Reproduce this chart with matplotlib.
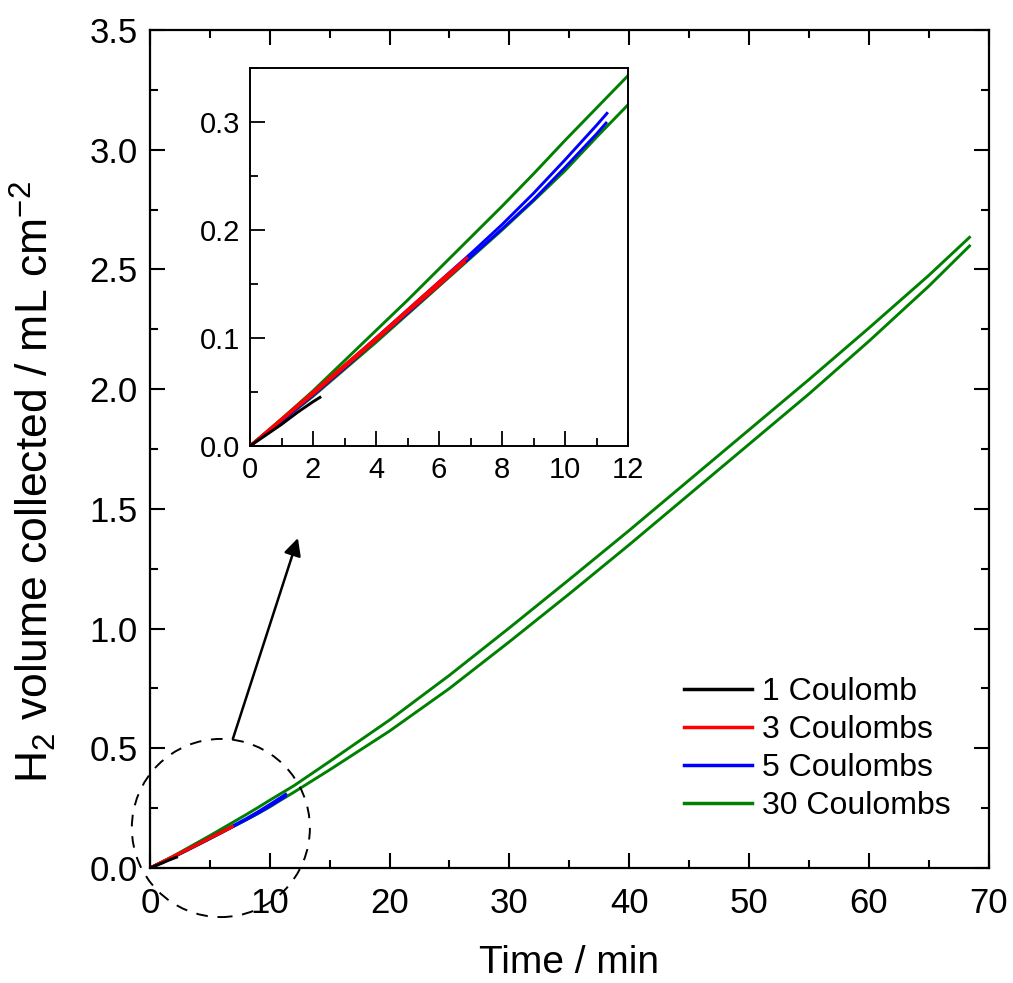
import matplotlib
matplotlib.use("Agg")
import matplotlib.pyplot as plt
from matplotlib.patches import Ellipse
from matplotlib.ticker import MultipleLocator

plt.rcParams['font.family'] = ['Liberation Sans', 'DejaVu Sans']
plt.rcParams['mathtext.default'] = 'regular'

# ---- data ----
t_green = [0, 1, 2, 3, 4, 5, 6, 7, 8, 9, 10, 11, 12, 15, 20, 25, 30, 35, 40, 45, 50, 55, 60, 65, 68.4]
green_upper = [0, 0.025, 0.051, 0.079, 0.107, 0.135, 0.164, 0.193, 0.222, 0.252, 0.283, 0.313, 0.343,
               0.445, 0.618, 0.805, 1.003, 1.205, 1.410, 1.620, 1.830, 2.040, 2.255, 2.475, 2.634]
green_lower = [0, 0.023, 0.046, 0.071, 0.096, 0.122, 0.148, 0.174, 0.200, 0.227, 0.255, 0.286, 0.316,
               0.410, 0.572, 0.750, 0.945, 1.145, 1.350, 1.560, 1.770, 1.980, 2.200, 2.430, 2.598]

t_blue_a = [0, 1, 2, 3, 4, 5, 6, 7, 8, 9, 10, 11, 11.33]
blue_a = [0, 0.024, 0.048, 0.074, 0.100, 0.126, 0.152, 0.178, 0.205, 0.234, 0.265, 0.297, 0.308]
t_blue_b = [0, 1, 2, 3, 4, 5, 6, 7, 8, 9, 10, 11, 11.3]
blue_b = [0, 0.023, 0.047, 0.072, 0.098, 0.123, 0.149, 0.175, 0.201, 0.228, 0.258, 0.289, 0.299]

t_red_a = [0, 1, 2, 3, 4, 5, 6, 6.88]
red_a = [0, 0.025, 0.050, 0.075, 0.100, 0.126, 0.152, 0.174]
t_red_b = [0, 1, 2, 3, 4, 5, 6, 6.8]
red_b = [0, 0.024, 0.048, 0.073, 0.098, 0.124, 0.149, 0.170]

t_black = [0, 0.5, 1, 1.5, 2, 2.22]
black = [0, 0.010, 0.020, 0.031, 0.041, 0.045]

labels = ['1 Coulomb', '3 Coulombs', '5 Coulombs', '30 Coulombs']
colors = ['black', '#ff0000', '#0000ff', '#008000']

fig = plt.figure(figsize=(10.13, 9.83), dpi=100)
ax = fig.add_axes([0.148, 0.117, 0.828, 0.8525])


def draw_all(a, lw):
    a.plot(t_green, green_upper, color=colors[3], lw=lw, zorder=2)
    a.plot(t_green, green_lower, color=colors[3], lw=lw, zorder=2)
    a.plot(t_blue_a, blue_a, color=colors[2], lw=lw, zorder=3)
    a.plot(t_blue_b, blue_b, color=colors[2], lw=lw, zorder=3)
    a.plot(t_red_a, red_a, color=colors[1], lw=lw, zorder=4)
    a.plot(t_red_b, red_b, color=colors[1], lw=lw, zorder=4)
    a.plot(t_black, black, color=colors[0], lw=lw, zorder=5)


draw_all(ax, 2.1)

ax.set_xlim(0, 70)
ax.set_ylim(0, 3.5)
ax.xaxis.set_major_locator(MultipleLocator(10))
ax.xaxis.set_minor_locator(MultipleLocator(5))
ax.yaxis.set_major_locator(MultipleLocator(0.5))
ax.yaxis.set_minor_locator(MultipleLocator(0.25))
ax.yaxis.set_major_formatter(plt.FuncFormatter(lambda v, p: f"{v:.1f}"))
ax.tick_params(which='both', direction='in', top=True, right=True, width=1.5)
ax.tick_params(which='major', length=11, labelsize=25)
ax.tick_params(axis='x', which='major', pad=14)
ax.tick_params(axis='y', which='major', pad=9)
ax.tick_params(which='minor', length=6)
for s in ax.spines.values():
    s.set_linewidth(1.6)
ax.set_xlabel('Time / min', fontsize=28)
ax.xaxis.set_label_coords(0.5, -0.092)
ax.set_ylabel('H$_2$ volume collected / mL cm$^{-2}$', fontsize=32)
ax.yaxis.set_label_coords(-0.110, 0.461)

# legend
handles = [plt.Line2D([], [], color=c, lw=2.5) for c in colors]
ax.legend(handles, labels, loc='upper left', bbox_to_anchor=(0.602, 0.262), frameon=False,
          fontsize=23, handlelength=2.15, handletextpad=0.3, labelspacing=0.25)

# dashed circle and arrow
circ = Ellipse((5.92, 0.167), width=2 * 7.43, height=2 * 0.372, fill=False, ls=(0, (6, 5)),
               lw=1.4, color='black', clip_on=False, zorder=6)
ax.add_patch(circ)
ax.annotate('', xy=(12.35, 1.378), xytext=(6.92, 0.539),
            arrowprops=dict(arrowstyle='-|>', color='black', lw=1.8, mutation_scale=26,
                            shrinkA=0, shrinkB=0))

# inset
ins = fig.add_axes([0.2468, 0.5463, 0.3732, 0.3845])
draw_all(ins, 2.1)
ins.set_xlim(0, 12)
ins.set_ylim(0, 0.35)
ins.xaxis.set_major_locator(MultipleLocator(2))
ins.xaxis.set_minor_locator(MultipleLocator(1))
ins.yaxis.set_major_locator(MultipleLocator(0.1))
ins.yaxis.set_minor_locator(MultipleLocator(0.05))
ins.tick_params(which='both', direction='in', width=1.3)
ins.tick_params(which='major', length=11, labelsize=21, pad=7)
ins.tick_params(which='minor', length=6)
for s in ins.spines.values():
    s.set_linewidth(1.4)

fig.savefig('out.png', dpi=100)
